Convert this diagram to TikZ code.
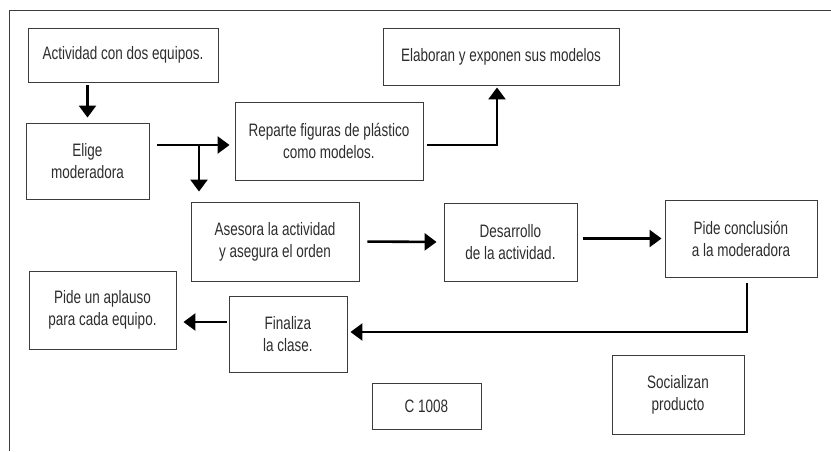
\documentclass[tikz,border=0pt]{standalone}
\usepackage{fontspec}
\setmainfont[FakeStretch=0.75]{Liberation Sans}
\usetikzlibrary{arrows.meta}
\definecolor{boxgray}{RGB}{60,60,60}
\definecolor{textgray}{RGB}{45,45,45}

\begin{document}
\begin{tikzpicture}[x=1pt,y=-1pt,
    caja/.style={draw=boxgray,line width=0.9pt,align=center,text=textgray,
        font=\fontsize{18}{22}\selectfont,inner sep=0pt},
    flecha/.style={line width=2.6pt,-{Triangle[length=12pt,width=17pt]}}]
    \useasboundingbox (0,0) rectangle (831,451);

    % Marco (solo arriba e izquierda)
    \draw[boxgray,line width=1pt] (9,451) -- (9,10) -- (831,10);

    % Cajas
    \node[caja,minimum width=190pt,minimum height=54pt] (actividad) at (123,55) {Actividad con dos equipos.};
    \node[caja,minimum width=123pt,minimum height=76pt] (elige) at (87.5,161) {Elige\\moderadora};
    \node[caja,minimum width=188pt,minimum height=78pt] (reparte) at (329,141) {Reparte figuras de plástico\\como modelos.};
    \node[caja,minimum width=236pt,minimum height=57pt] (elaboran) at (501,56.5) {Elaboran y exponen sus modelos};
    \node[caja,minimum width=168pt,minimum height=79pt] (asesora) at (275,241.5) {Asesora la actividad\\y asegura el orden};
    \node[caja,minimum width=133pt,minimum height=78pt] (desarrollo) at (510.5,242) {Desarrollo\\de la actividad.};
    \node[caja,minimum width=152pt,minimum height=77pt] (conclusion) at (741,238.5) {Pide conclusión\\a la moderadora};
    \node[caja,minimum width=147pt,minimum height=78pt] (aplauso) at (102.5,310) {Pide un aplauso\\para cada equipo.};
    \node[caja,minimum width=118pt,minimum height=76pt] (finaliza) at (288,334) {Finaliza\\la clase.};
    \node[caja,minimum width=109pt,minimum height=46pt] (codigo) at (426.5,406) {C 1008};
    \node[caja,minimum width=132pt,minimum height=79pt] (socializan) at (678,394.5) {Socializan\\producto};

    % Flechas
    \draw[flecha,shorten <=3pt,shorten >=5pt] (elige.north |- actividad.south) -- (elige.north);
    \draw[flecha,shorten <=8pt,shorten >=5pt] ([yshift=-4pt]elige.east |- reparte.west) -- ([yshift=-4pt]reparte.west);
    \coordinate (rama) at (199,145);
    \draw[flecha,shorten >=10pt] (rama) -- (rama |- asesora.north);
    \draw[flecha,shorten <=4pt,shorten >=2pt] ([yshift=-4pt]reparte.east) -| ([xshift=-4pt]elaboran.south);
    \draw[flecha,shorten <=8pt,shorten >=7pt] (asesora.east) -- (desarrollo.west);
    \draw[flecha,shorten <=6pt,shorten >=3pt] (desarrollo.east |- conclusion.west) -- (conclusion.west);
    \draw[flecha,shorten <=6pt,shorten >=3pt] ([xshift=6pt]conclusion.south) |- ([yshift=2pt]finaliza.east);
    \draw[flecha,shorten <=2pt,shorten >=7pt] ([yshift=12pt]finaliza.west) -- ([yshift=-12pt]aplauso.east);
\end{tikzpicture}
\end{document}
